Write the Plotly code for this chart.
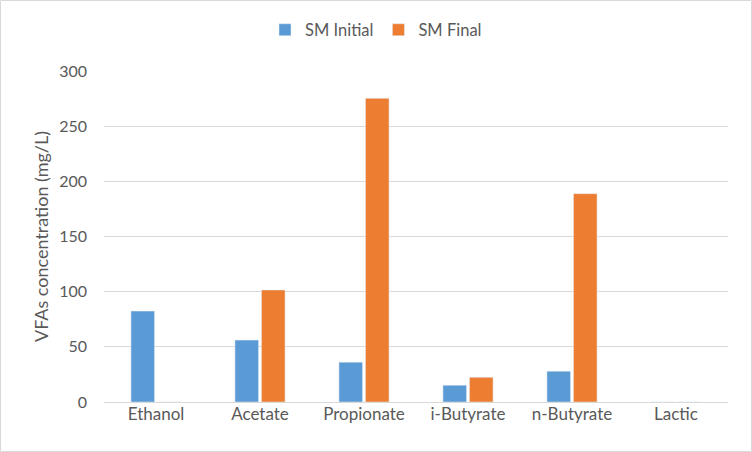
import plotly.graph_objects as go

categories = ["Ethanol", "Acetate", "Propionate", "i-Butyrate", "n-Butyrate", "Lactic"]
sm_initial = [82.4, 56.1, 36.1, 15.2, 27.9, 0]
sm_final = [0, 101.5, 275.2, 22.4, 188.8, 0]
y_ticks = [0, 50, 100, 150, 200, 250, 300]

FONT = "Lato"
GRAY = "#595959"

fig = go.Figure()
fig.add_trace(go.Bar(name="SM Initial", x=categories, y=sm_initial, marker_color="#5B9BD5"))
fig.add_trace(go.Bar(name="SM Final", x=categories, y=sm_final, marker_color="#ED7D31"))

W, H = 752, 452
ml, mr, mt, mb = 104, 24, 71, 50
pw = W - ml - mr
ph = H - mt - mb

fig.update_layout(
    width=W, height=H,
    margin=dict(l=ml, r=mr, t=mt, b=mb),
    paper_bgcolor="white", plot_bgcolor="white",
    barmode="group", bargap=0.49, bargroupgap=0.11,
    font=dict(family=FONT, size=16, color=GRAY),
    legend=dict(orientation="h", x=(376 - ml) / pw, xanchor="center",
                y=(H - mb - 30) / ph, yanchor="middle",
                font=dict(family=FONT, size=16.5, color=GRAY),
                itemwidth=30, traceorder="normal"),
    xaxis=dict(showgrid=False, showline=False, ticks="",
               tickfont=dict(family=FONT, size=17, color=GRAY)),
    yaxis=dict(range=[0, 300], tickvals=y_ticks, showgrid=True,
               gridcolor="#D9D9D9", gridwidth=1, zeroline=True,
               zerolinecolor="#D9D9D9", zerolinewidth=1,
               ticks="", ticklabelstandoff=16,
               tickfont=dict(family=FONT, size=16, color=GRAY),
               title=dict(text="VFAs concentration (mg/L)", standoff=5,
                          font=dict(family=FONT, size=18, color=GRAY))),
    shapes=[dict(type="rect", xref="paper", yref="paper",
                 x0=-(ml - 0.5) / pw, x1=(W - ml - 0.5) / pw,
                 y0=-(mb - 0.5) / ph, y1=(H - mb - 0.5) / ph,
                 line=dict(color="#D9D9D9", width=1), layer="below")],
)

fig.write_html("out.html", config={"displayModeBar": False},
               post_script="document.body.style.margin='0';document.body.style.overflow='hidden';")
